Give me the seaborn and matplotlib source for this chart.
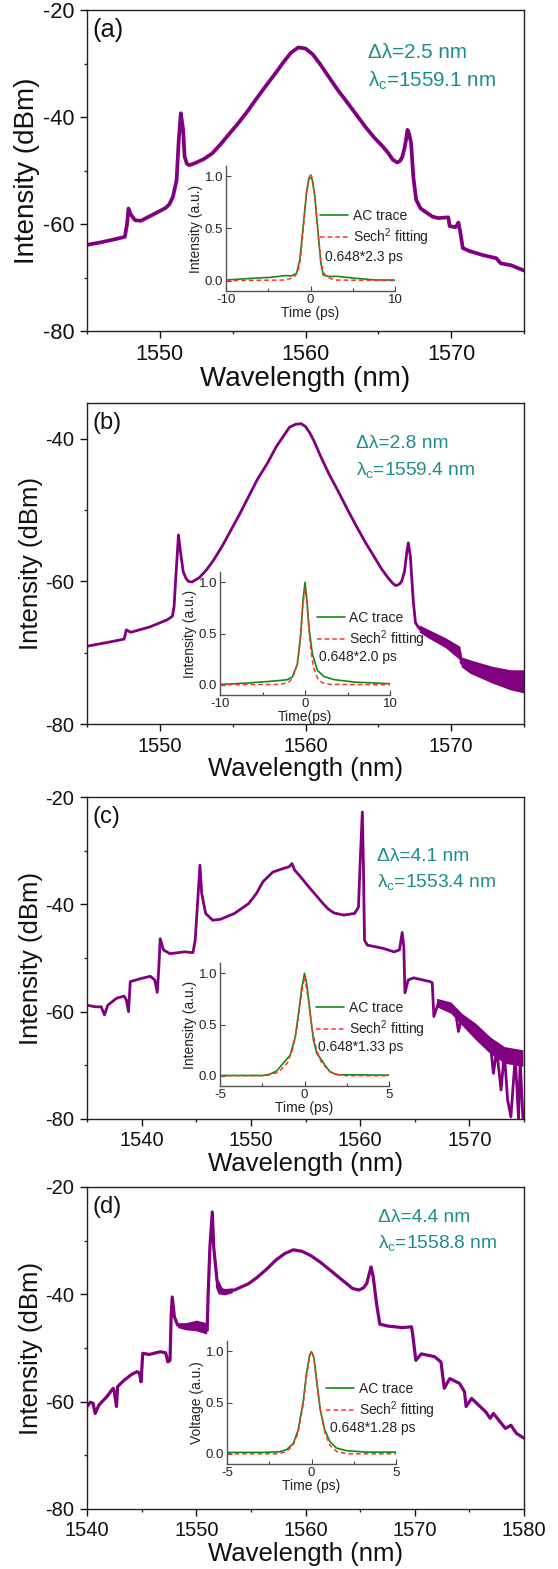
import matplotlib
matplotlib.use("Agg")
import matplotlib.pyplot as plt
from matplotlib.ticker import MultipleLocator, FormatStrFormatter
import seaborn as sns

sns.set_theme(style="ticks")
plt.rcParams["font.family"] = ["Liberation Sans", "DejaVu Sans"]
plt.rcParams["mathtext.fontset"] = "custom"
plt.rcParams["mathtext.rm"] = "Liberation Sans"
plt.rcParams["mathtext.it"] = "Liberation Sans:italic"
plt.rcParams["axes.unicode_minus"] = False

W, H = 558, 1569
PURPLE = "#800080"
TEAL = "#1b8c8c"
GREEN = "#138a13"
RED = "#ff3030"

# ---------------- optical spectra (wavelength nm, intensity dBm) ----------------
wl_a = [1545.0, 1546.0, 1547.0, 1547.6, 1547.75, 1547.85, 1548.0, 1548.3, 1548.7, 1549.7,
        1550.4, 1550.66, 1550.9, 1551.15, 1551.3, 1551.44, 1551.6, 1551.7, 1551.85, 1552.0,
        1552.25, 1552.6, 1553.0, 1553.6, 1554.2, 1554.8, 1555.4, 1556.0, 1556.6, 1557.25,
        1558.0, 1558.5, 1559.0, 1559.5, 1560.0, 1560.5, 1561.0, 1561.6, 1562.2, 1562.9,
        1563.5, 1564.1, 1564.7, 1565.3, 1565.7, 1566.0, 1566.3, 1566.5, 1566.65, 1566.8,
        1566.9, 1567.0, 1567.1, 1567.25, 1567.4, 1567.6, 1567.9, 1568.7, 1569.1, 1569.8,
        1569.9, 1570.3, 1570.5, 1570.6, 1570.8, 1571.2, 1572.15, 1573.1, 1573.4, 1574.1,
        1575.0]
db_a = [-63.9, -63.4, -62.8, -62.4, -60.0, -57.1, -58.2, -59.3, -59.4, -58.0,
        -57.0, -56.3, -54.9, -51.8, -44.3, -39.3, -42.4, -47.4, -48.7, -49.0,
        -48.8, -48.4, -47.9, -46.8, -45.0, -43.05, -41.1, -39.0, -36.7, -34.3,
        -31.6, -29.7, -28.0, -27.0, -27.2, -28.3, -30.1, -32.5, -34.9, -37.4,
        -39.6, -41.8, -43.8, -45.5, -46.8, -48.0, -48.5, -48.2, -47.4, -45.8,
        -44.3, -42.4, -43.0, -44.9, -51.15, -55.5, -57.1, -58.6, -58.9, -58.75,
        -60.4, -60.6, -59.75, -61.1, -64.5, -65.0, -65.8, -66.4, -67.35, -67.7,
        -68.7]

wl_b = [1545.0, 1546.3, 1547.55, 1547.7, 1548.0, 1549.3, 1550.5, 1550.86, 1550.98, 1551.1,
        1551.28, 1551.4, 1551.6, 1551.8, 1551.96, 1552.2, 1552.7, 1553.2, 1553.7, 1554.3,
        1554.9, 1555.5, 1556.1, 1556.7, 1557.4, 1558.0, 1558.6, 1558.9, 1559.3, 1559.7,
        1560.0, 1560.3, 1560.6, 1561.0, 1561.6, 1562.3, 1562.9, 1563.5, 1564.1, 1564.7,
        1565.2, 1565.7, 1566.0, 1566.2, 1566.45, 1566.6, 1566.8, 1566.95, 1567.06, 1567.2,
        1567.4, 1567.55, 1567.8, 1568.4, 1569.6, 1570.6, 1570.7, 1572.1, 1573.3, 1575.0]
db_b = [-69.1, -68.6, -68.1, -66.8, -67.15, -66.4, -65.4, -64.9, -63.5, -59.3,
        -53.5, -55.6, -58.6, -59.6, -60.0, -60.1, -59.5, -58.4, -57.0, -55.0,
        -52.75, -50.5, -48.1, -45.7, -43.4, -41.1, -39.3, -38.4, -38.0, -37.9,
        -38.3, -39.2, -40.4, -42.3, -44.9, -47.6, -50.0, -52.3, -54.5, -56.5,
        -58.2, -59.6, -60.3, -60.6, -60.4, -60.0, -58.6, -56.0, -54.6, -56.5,
        -62.8, -65.8, -66.6, -67.3, -68.6, -70.0, -71.45, -72.4, -73.3, -74.0]

wl_c = [1535.0, 1535.8, 1536.3, 1536.6, 1536.9, 1537.7, 1538.4, 1538.6, 1538.8, 1538.96,
        1540.0, 1540.8, 1541.2, 1541.43, 1541.56, 1541.7, 1542.0, 1542.6, 1543.9, 1544.7,
        1544.9, 1545.1, 1545.34, 1545.5, 1545.86, 1546.5, 1547.2, 1548.5, 1549.8, 1550.5,
        1551.1, 1552.0, 1553.0, 1553.5, 1553.76, 1554.0, 1554.6, 1555.3, 1556.0, 1556.6,
        1557.1, 1557.6, 1558.5, 1559.5, 1559.85, 1560.0, 1560.2, 1560.3, 1560.4, 1560.66,
        1562.1, 1563.1, 1563.6, 1563.85, 1564.0, 1564.1, 1564.4, 1564.9, 1566.4, 1566.6,
        1566.75, 1567.2, 1568.0, 1568.8, 1569.0, 1569.3, 1570.3, 1571.9, 1572.2, 1572.5,
        1572.9, 1573.2, 1573.5, 1573.8, 1574.2, 1574.5, 1574.65, 1574.9]
db_c = [-58.8, -59.1, -59.1, -60.6, -58.8, -57.5, -57.1, -57.8, -60.0, -54.4,
        -53.8, -53.4, -54.1, -56.4, -52.3, -46.4, -48.5, -49.2, -48.85, -49.0,
        -46.7, -40.5, -32.7, -38.0, -41.7, -42.95, -42.8, -41.7, -39.85, -38.0,
        -35.8, -34.0, -33.3, -33.0, -32.4, -33.6, -35.0, -36.75, -38.4, -39.85,
        -40.9, -41.6, -42.0, -41.7, -40.5, -32.4, -22.8, -32.4, -46.7, -47.6,
        -48.2, -48.85, -48.5, -45.25, -47.9, -56.5, -54.1, -53.7, -54.4, -54.6,
        -60.9, -58.15, -58.8, -60.9, -63.7, -61.25, -62.8, -65.6, -71.5, -67.1,
        -74.6, -67.7, -76.45, -79.6, -68.3, -80.0, -69.0, -80.0]

wl_d = [1540.0, 1540.3, 1540.55, 1540.75, 1541.1, 1541.8, 1542.4, 1542.5, 1542.7, 1542.8,
        1543.4, 1544.1, 1544.6, 1544.8, 1544.95, 1545.1, 1545.7, 1546.7, 1547.2, 1547.4,
        1547.6, 1547.7, 1547.8, 1548.0, 1548.3, 1549.3, 1550.1, 1550.75, 1551.0, 1551.08,
        1551.25, 1551.47, 1551.6, 1551.9, 1552.4, 1553.5, 1554.8, 1555.6, 1556.5, 1557.3,
        1558.1, 1558.9, 1559.7, 1560.5, 1561.35, 1562.2, 1563.0, 1563.7, 1564.3, 1564.9,
        1565.3, 1565.6, 1566.0, 1566.2, 1566.5, 1566.8, 1567.5, 1568.85, 1569.7, 1569.8,
        1570.1, 1570.6, 1571.8, 1572.4, 1572.7, 1573.2, 1574.1, 1574.55, 1574.7, 1575.2,
        1576.5, 1576.9, 1577.2, 1578.3, 1578.8, 1579.3, 1580.0]
db_d = [-60.9, -60.1, -60.3, -62.2, -60.6, -59.1, -57.5, -58.15, -60.9, -57.2,
        -56.0, -54.9, -54.4, -54.7, -56.3, -51.0, -51.2, -50.7, -50.9, -52.6,
        -52.3, -44.2, -40.5, -44.2, -45.75, -45.75, -45.6, -46.05, -46.7, -40.5,
        -31.2, -24.65, -31.2, -37.4, -39.5, -39.2, -38.0, -36.8, -35.2, -33.6,
        -32.4, -31.7, -32.0, -32.8, -34.0, -35.4, -36.75, -37.9, -38.9, -39.2,
        -38.8, -38.0, -34.9, -36.75, -41.7, -45.55, -45.9, -46.2, -46.05, -47.3,
        -52.3, -51.1, -51.6, -52.6, -57.5, -55.7, -56.6, -58.15, -60.9, -59.4,
        -61.9, -63.1, -62.2, -65.0, -64.4, -65.9, -66.8]

# noise envelopes of the spectra (wavelength, lower dBm, upper dBm)
band_b = ([1567.8, 1568.4, 1569.6, 1570.6, 1570.7, 1571.3, 1572.8, 1574.05, 1575.0],
          [-67.1, -67.9, -69.3, -71.0, -72.0, -72.9, -74.25, -75.2, -75.65],
          [-66.1, -66.7, -67.9, -69.1, -70.6, -71.0, -71.9, -72.4, -72.4])
band_c = ([1567.0, 1568.3, 1569.3, 1570.6, 1571.9, 1573.2, 1574.9],
          [-59.1, -60.3, -62.5, -65.3, -67.8, -69.6, -70.2],
          [-57.5, -58.2, -60.3, -62.2, -64.7, -66.5, -67.1])
band_d1 = ([1548.3, 1549.0, 1550.0, 1550.95], [-46.2, -46.6, -46.8, -47.4], [-45.3, -45.3, -44.8, -45.3])
band_d2 = ([1551.75, 1552.0, 1552.6, 1553.3], [-38.6, -39.9, -40.1, -39.7], [-36.8, -38.6, -38.9, -38.8])

# ---------------- autocorrelation traces (delay ps, normalised) ----------------
t_a = [-10, -6.6, -4.6, -3.0, -2.24, -1.65, -1.26, -0.87, -0.47, -0.2, 0.0, 0.2, 0.51, 0.9,
       1.22, 1.5, 2.1, 3.3, 5.2, 7.6, 10]
ac_a = [0.006, 0.023, 0.032, 0.048, 0.045, 0.07, 0.2, 0.52, 0.845, 0.974, 0.99, 0.97, 0.81,
        0.46, 0.17, 0.055, 0.04, 0.04, 0.023, 0.006, 0.005]
tf_a = [-10, -3, -2, -1.5, -1.2, -0.85, -0.5, -0.25, 0, 0.25, 0.5, 0.85, 1.2, 1.5, 2, 3, 10]
fit_a = [0, 0.005, 0.03, 0.08, 0.2, 0.5, 0.82, 0.97, 1.03, 0.97, 0.82, 0.5, 0.2, 0.08, 0.03, 0.005, 0]

t_b = [-10, -6.85, -3.7, -2.1, -1.5, -0.9, -0.5, -0.24, 0, 0.2, 0.47, 0.87, 1.46, 2.24, 3.4, 5.8, 10]
ac_b = [0.003, 0.016, 0.036, 0.049, 0.075, 0.2, 0.49, 0.82, 1.0, 0.85, 0.56, 0.3, 0.14, 0.08,
        0.05, 0.026, 0.01]
tf_b = [-10, -3, -2, -1.5, -1.0, -0.7, -0.45, -0.25, 0, 0.25, 0.45, 0.7, 1.0, 1.5, 2, 3, 10]
fit_b = [0, 0.003, 0.02, 0.06, 0.17, 0.33, 0.55, 0.78, 0.935, 0.78, 0.55, 0.33, 0.17, 0.06, 0.02, 0.003, 0]

t_c = [-5, -2.44, -2.04, -1.64, -1.24, -0.85, -0.55, -0.36, -0.16, 0, 0.14, 0.34, 0.53, 0.73,
       1.03, 1.22, 1.5, 1.9, 5]
ac_c = [0.003, 0.003, 0.016, 0.048, 0.126, 0.2, 0.377, 0.6, 0.86, 1.0, 0.89, 0.6, 0.345, 0.216,
        0.15, 0.1, 0.04, 0.01, 0.006]
tf_c = [-5, -2.5, -2, -1.5, -1.0, -0.7, -0.45, -0.25, 0, 0.25, 0.45, 0.7, 1.0, 1.5, 2, 2.5, 5]
fit_c = [0, 0, 0.01, 0.04, 0.13, 0.26, 0.46, 0.72, 0.97, 0.72, 0.46, 0.26, 0.13, 0.04, 0.01, 0, 0]

t_d = [-5, -2.85, -1.87, -1.48, -1.08, -0.79, -0.49, -0.3, -0.1, 0, 0.14, 0.33, 0.53, 0.79,
       1.08, 1.48, 2.07, 3.25, 5]
ac_d = [0.013, 0.013, 0.02, 0.04, 0.1, 0.23, 0.51, 0.78, 0.97, 0.995, 0.94, 0.68, 0.42, 0.23,
        0.12, 0.055, 0.03, 0.016, 0.016]
tf_d = [-5, -2, -1.5, -1.1, -0.8, -0.5, -0.3, -0.1, 0, 0.14, 0.33, 0.53, 0.8, 1.1, 1.5, 2.2, 5]
fit_d = [0, 0, 0.02, 0.08, 0.2, 0.47, 0.75, 0.96, 1.0, 0.94, 0.68, 0.42, 0.2, 0.08, 0.02, 0, 0]

panel_labels = ["(a)", "(b)", "(c)", "(d)"]
bandwidths = ["Δλ=2.5 nm", "Δλ=2.8 nm", "Δλ=4.1 nm", "Δλ=4.4 nm"]
centers = ["λ$_\\mathregular{c}$=1559.1 nm", "λ$_\\mathregular{c}$=1559.4 nm",
           "λ$_\\mathregular{c}$=1553.4 nm", "λ$_\\mathregular{c}$=1558.8 nm"]
pulse_texts = ["0.648*2.3 ps", "0.648*2.0 ps", "0.648*1.33 ps", "0.648*1.28 ps"]
time_labels = ["Time (ps)", "Time(ps)", "Time (ps)", "Time (ps)"]
ac_ylabels = ["Intensity (a.u.)", "Intensity (a.u.)", "Intensity (a.u.)", "Voltage (a.u.)"]

# ---------------- layout (pixel boxes: left, top, right, bottom) ----------------
panels = [
    dict(wl=wl_a, db=db_a, bands=[], xlim=(1545, 1575), ylim=(-80, -20), lw=2.7, s=1.08,
         box=(87, 10, 524, 331), txt=(368, 53, 81),
         ibox=(226, 166, 395, 291), t=t_a, ac=ac_a, tf=tf_a, fit=fit_a, tlim=(-10, 10), tmaj=10,
         leg=(0.556, 0.575, 0.425, 0.27), ptx=0.585),
    dict(wl=wl_b, db=db_b, bands=[band_b], xlim=(1545, 1575), ylim=(-80, -35), lw=2.0, s=1.0,
         box=(87, 403, 524, 724), txt=(356, 444, 470),
         ibox=(220, 572, 390, 695), t=t_b, ac=ac_b, tf=tf_b, fit=fit_b, tlim=(-10, 10), tmaj=10,
         leg=(0.569, 0.594, 0.452, 0.31), ptx=0.585),
    dict(wl=wl_c, db=db_c, bands=[band_c], xlim=(1535, 1575), ylim=(-80, -20), lw=2.0, s=1.0,
         box=(87, 797, 524, 1119), txt=(377, 856, 882),
         ibox=(220, 963, 389, 1086), t=t_c, ac=ac_c, tf=tf_c, fit=fit_c, tlim=(-5, 5), tmaj=5,
         leg=(0.569, 0.61, 0.453, 0.317), ptx=0.58),
    dict(wl=wl_d, db=db_d, bands=[band_d1, band_d2], xlim=(1540, 1580), ylim=(-80, -20), lw=2.3, s=1.0,
         box=(87, 1187, 524, 1509), txt=(378, 1218, 1243),
         ibox=(227, 1341, 396, 1464), t=t_d, ac=ac_d, tf=tf_d, fit=fit_d, tlim=(-5, 5), tmaj=5,
         leg=(0.587, 0.581, 0.432, 0.294), ptx=0.61),
]


def fig_rect(l, t, r, b):
    return [l / W, 1 - b / H, (r - l) / W, (b - t) / H]


fig = plt.figure(figsize=(W / 100, H / 100), dpi=100)

for i, p in enumerate(panels):
    s = p["s"]
    ax = fig.add_axes(fig_rect(*p["box"]))
    for bw, lo, hi in p["bands"]:
        ax.fill_between(bw, lo, hi, color=PURPLE, linewidth=0)
    sns.lineplot(x=p["wl"], y=p["db"], ax=ax, color=PURPLE, linewidth=p["lw"],
                 estimator=None, sort=False, legend=False)
    ax.lines[-1].set_solid_joinstyle("round")
    ax.set_xlim(*p["xlim"])
    ax.set_ylim(*p["ylim"])
    ax.xaxis.set_major_locator(MultipleLocator(10))
    ax.xaxis.set_minor_locator(MultipleLocator(5))
    ax.yaxis.set_major_locator(MultipleLocator(20))
    ax.yaxis.set_minor_locator(MultipleLocator(10))
    ax.xaxis.set_major_formatter(FormatStrFormatter("%d"))
    ax.yaxis.set_major_formatter(FormatStrFormatter("%d"))
    ax.tick_params(which="major", direction="out", length=5, width=1.0, labelsize=14.5 * s,
                   pad=4, colors="#111111")
    ax.tick_params(which="minor", direction="out", length=2.5, width=1.0)
    for sp in ax.spines.values():
        sp.set_visible(True)
        sp.set_linewidth(1.0)
        sp.set_color("#222222")
    ax.set_xlabel("Wavelength (nm)", fontsize=18.5 * s, labelpad=1, color="#111111")
    ax.set_ylabel("Intensity (dBm)", fontsize=18.5 * s, labelpad=2, color="#111111")

    l, t, r, b = p["box"]
    fig.text(92 / W, 1 - (t + 20) / H, panel_labels[i], fontsize=17 * s, ha="left", va="center",
             color="#111111")
    tx, ty1, ty2 = p["txt"]
    fig.text(tx / W, 1 - ty1 / H, bandwidths[i], fontsize=13.8 * s, color=TEAL, ha="left", va="center")
    fig.text(tx / W, 1 - ty2 / H, centers[i], fontsize=13.8 * s, color=TEAL, ha="left", va="center")

    # autocorrelation inset
    axi = fig.add_axes(fig_rect(*p["ibox"]))
    axi.patch.set_alpha(0)
    sns.lineplot(x=p["t"], y=p["ac"], ax=axi, color=GREEN, linewidth=1.2, label="AC trace",
                 estimator=None, sort=False)
    sns.lineplot(x=p["tf"], y=p["fit"], ax=axi, color=RED, linewidth=1.1,
                 label="Sech$^{2}$ fitting", estimator=None, sort=False)
    axi.lines[-1].set_dashes([3, 2])
    axi.set_xlim(*p["tlim"])
    axi.set_ylim(-0.1, 1.1)
    axi.xaxis.set_major_locator(MultipleLocator(p["tmaj"]))
    axi.xaxis.set_minor_locator(MultipleLocator(p["tmaj"] / 2))
    axi.yaxis.set_major_locator(MultipleLocator(0.5))
    axi.yaxis.set_major_formatter(FormatStrFormatter("%.1f"))
    axi.xaxis.set_major_formatter(FormatStrFormatter("%d"))
    axi.spines["top"].set_visible(False)
    axi.spines["right"].set_visible(False)
    for k in ("left", "bottom"):
        axi.spines[k].set_color("#555555")
        axi.spines[k].set_linewidth(1.0)
    axi.tick_params(which="major", direction="in", length=3.5, width=0.8, labelsize=9.5,
                    pad=2, colors="#444444", labelcolor="#222222")
    axi.tick_params(which="minor", direction="in", length=2, width=0.8, colors="#444444")
    axi.set_xlabel(time_labels[i], fontsize=10, labelpad=0, color="#222222")
    axi.set_ylabel(ac_ylabels[i], fontsize=10, labelpad=1, color="#222222")

    hx, y1, y2, y3 = p["leg"]
    axi.legend(loc="center left", bbox_to_anchor=(hx, (y1 + y2) / 2), frameon=False,
               fontsize=10, handlelength=2.0, handletextpad=0.35, labelspacing=0.25,
               borderpad=0, borderaxespad=0, labelcolor="#222222")
    axi.text(p["ptx"], y3, pulse_texts[i], transform=axi.transAxes, fontsize=10,
             ha="left", va="center", color="#222222")

fig.savefig("out.png", dpi=100)
